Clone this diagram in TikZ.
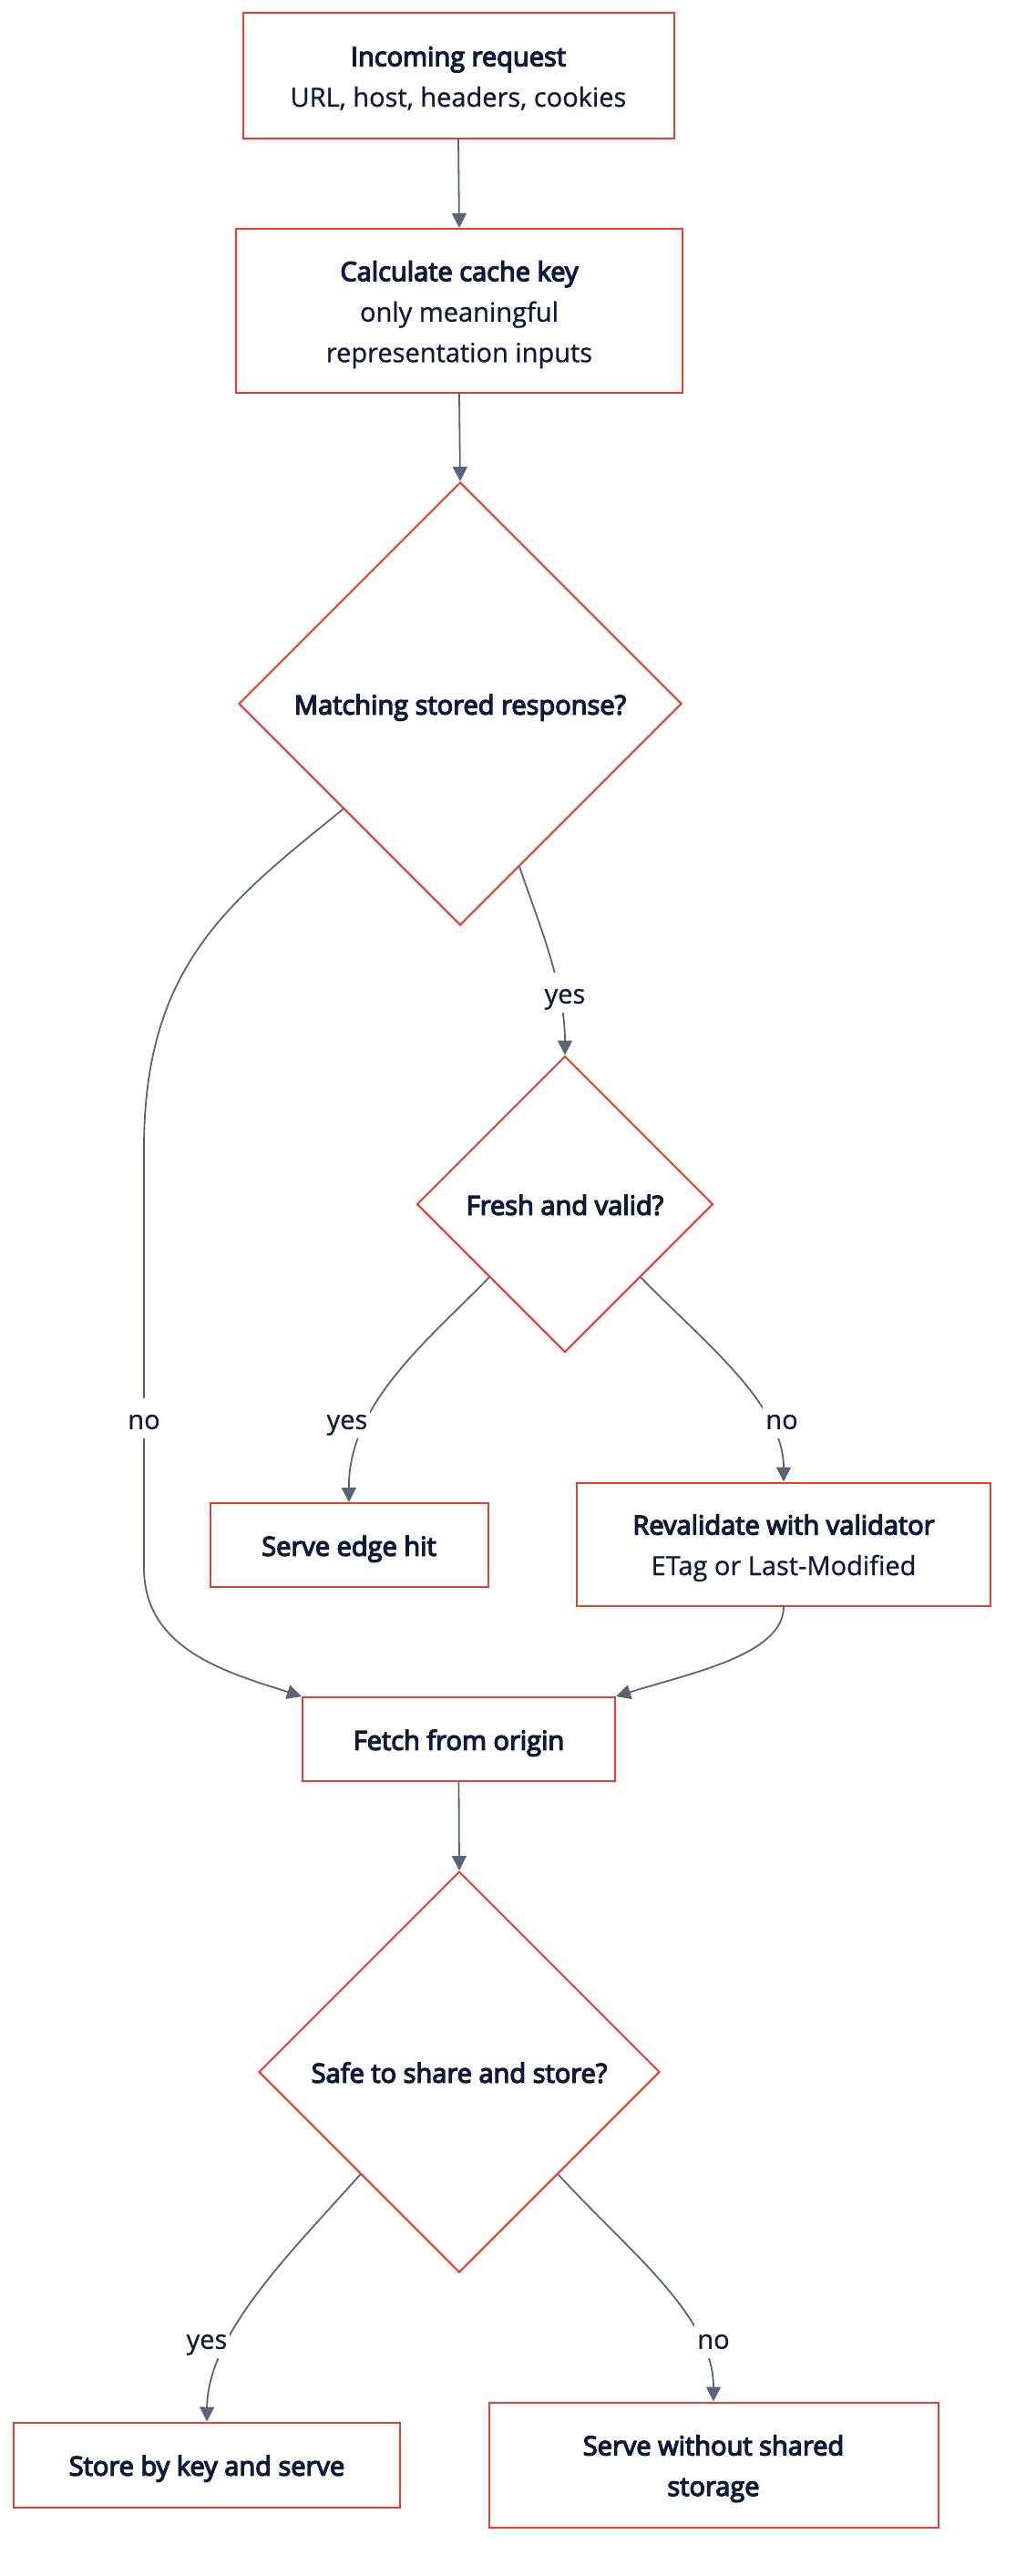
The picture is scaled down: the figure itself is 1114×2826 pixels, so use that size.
\documentclass[tikz,border=0pt]{standalone}
\usepackage{fontspec}
\setmainfont{Open Sans}[UprightFeatures={FakeBold=0.8}, BoldFont={Open Sans}, BoldFeatures={FakeBold=4.5}]
\usetikzlibrary{shapes.geometric,arrows.meta}
\definecolor{boxred}{HTML}{E5402F}
\definecolor{textc}{HTML}{0C1A3C}
\definecolor{edgec}{HTML}{5A6478}
\newcommand\lnst{\rule[-10.5pt]{0pt}{44.5pt}}
\tikzset{
  base/.style={draw=boxred, line width=2pt, fill=white, text=textc, align=center, inner sep=0pt,
    font=\fontsize{29}{44.5}\selectfont},
  box/.style={base, rectangle},
  dia/.style={base, diamond, aspect=1},
  edge/.style={draw=edgec, line width=1.8pt, -{Triangle[length=16pt,width=16pt]}},
  lbl/.style={fill=white, text=textc, inner xsep=3pt, inner ysep=0pt,
    font=\fontsize{29}{44.5}\selectfont}
}
\begin{document}
\begin{tikzpicture}[x=1pt,y=-1pt]
\useasboundingbox (0,0) rectangle (1114,2826);
\fill[white] (0,0) rectangle (1114,2826);

\node[box, minimum width=473, minimum height=137] (n1) at (503,83)
  {\lnst\textbf{Incoming request}\\\lnst URL, host, headers, cookies};
\node[box, minimum width=490, minimum height=180] (n2) at (504,341)
  {\lnst\textbf{Calculate cache key}\\\lnst only meaningful\\\lnst representation inputs};
\node[dia, minimum width=486, minimum height=486] (d1) at (505,772)
  {\lnst\textbf{Matching stored response?}};
\node[dia, minimum width=325, minimum height=325] (d2) at (620,1321)
  {\lnst\textbf{Fresh and valid?}};
\node[box, minimum width=305, minimum height=92] (hit) at (383,1695)
  {\lnst\textbf{Serve edge hit}};
\node[box, minimum width=454, minimum height=135] (rev) at (860,1694)
  {\lnst\textbf{Revalidate with validator}\\\lnst ETag or Last-Modified};
\node[box, minimum width=343, minimum height=92] (fetch) at (503.5,1908)
  {\lnst\textbf{Fetch from origin}};
\node[dia, minimum width=440, minimum height=440] (d3) at (504,2273)
  {\lnst\textbf{Safe to share and store?}};
\node[box, minimum width=424, minimum height=93] (store) at (227,2704)
  {\lnst\textbf{Store by key and serve}};
\node[box, minimum width=493, minimum height=137] (serve) at (783,2704)
  {\lnst\textbf{Serve without shared}\\\lnst\textbf{storage}};

\draw[edge] (n1.south) -- (n2.north);
\draw[edge] (n2.south) -- (d1.north);
\draw[edge] (d1.222) .. controls (250,990) and (158,1060) .. (158,1260)
  -- (158,1720) .. controls (158,1810) and (250,1835) .. (fetch.north west);
\draw[edge] (d1.290) .. controls (590,1010) and (620,1080) .. (d2.north);
\draw[edge] (d2.224) .. controls (470,1470) and (382,1540) .. (hit.north);
\draw[edge] (d2.316) .. controls (770,1470) and (860,1540) .. (rev.north);
\draw[edge] (rev.south) .. controls (860,1815) and (760,1835) .. (fetch.north east);
\draw[edge] (fetch.south) -- (d3.north);
\draw[edge] (d3.226) .. controls (320,2470) and (228,2560) .. (store.north);
\draw[edge] (d3.314) .. controls (690,2470) and (783,2540) .. (serve.north);

\node[lbl] (l1) at (158,1556) {\lnst no};
\node[lbl] (l2) at (620,1089) {\lnst yes};
\node[lbl] (l3) at (381,1556) {\lnst yes};
\node[lbl] (l4) at (858,1556) {\lnst no};
\node[lbl] (l5) at (227,2565) {\lnst yes};
\node[lbl] (l6) at (783,2565) {\lnst no};
\end{tikzpicture}
\end{document}
